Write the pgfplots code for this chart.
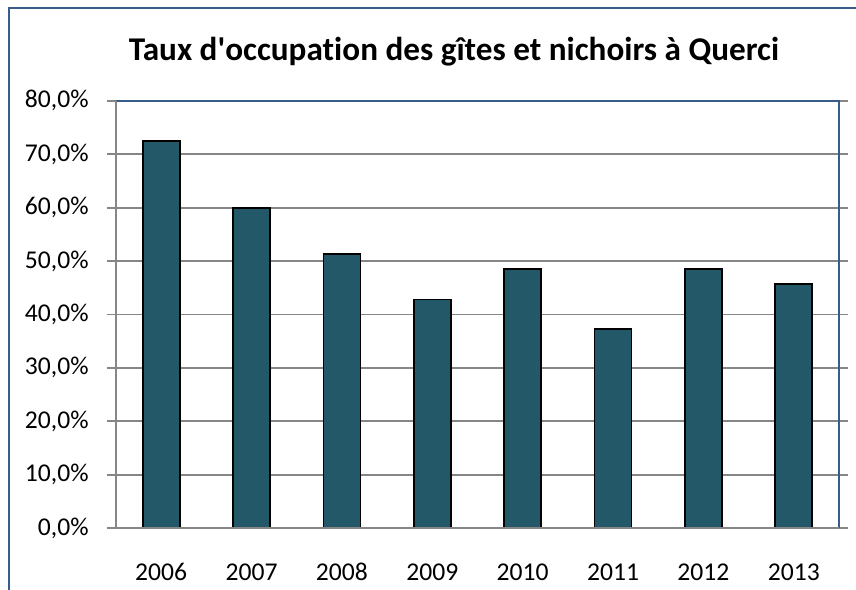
\documentclass[border=0pt]{standalone}
\usepackage{fontspec}
\setmainfont{Carlito}[Ligatures=NoCommon]
\usepackage{pgfplots}
\pgfplotsset{compat=1.18}
\definecolor{barfill}{RGB}{35,88,104}
\definecolor{frameblue}{RGB}{56,93,138}
\definecolor{gridgray}{RGB}{134,134,134}
\begin{document}
\begin{tikzpicture}
\path[use as bounding box, fill=white] (0,0) rectangle (428bp,295bp);
\draw[frameblue, line width=0.9bp] (4.5bp,0) -- (4.5bp,291bp) -- (428bp,291bp);
\node[font=\fontsize{16.6bp}{19bp}\selectfont\bfseries] at (227bp,269bp) {Taux d\textquotesingle occupation des gîtes et nichoirs à Querci};
\begin{axis}[
  at={(58bp,31bp)}, anchor=south west,
  scale only axis, width=361.5bp, height=213.6bp,
  xmin=-0.5, xmax=7.5, ymin=0, ymax=80,
  xtick=data, xticklabels={2006,2007,2008,2009,2010,2011,2012,2013},
  ytick={0,10,...,80},
  yticklabels={{0,0\%},{10,0\%},{20,0\%},{30,0\%},{40,0\%},{50,0\%},{60,0\%},{70,0\%},{80,0\%}},
  ymajorgrids, grid style={gridgray, line width=0.9bp},
  major x tick style={draw=none},
  major y tick style={gridgray, line width=0.9bp},
  tick align=outside, major tick length=4.5bp,
  axis line style={draw=none},
  ticklabel style={font=\fontsize{12.8bp}{15bp}\selectfont},
  yticklabel style={anchor=east, inner sep=0pt, xshift=-9bp},
  xticklabel style={anchor=base, inner sep=0pt, yshift=-21.9bp},
  ybar, bar width=18.5bp,
  clip=false,
]
\addplot[fill=barfill, draw=black, line width=0.9bp] coordinates {
 (0,72.4) (1,60.0) (2,51.3) (3,42.8) (4,48.5) (5,37.2) (6,48.5) (7,45.7)};
\draw[frameblue, line width=1bp] (rel axis cs:0,1) -- (rel axis cs:1,1) -- (rel axis cs:1,0);
\draw[gridgray, line width=1bp] (rel axis cs:1,0) -- (rel axis cs:0,0) -- (rel axis cs:0,1);
\end{axis}
\end{tikzpicture}
\end{document}
